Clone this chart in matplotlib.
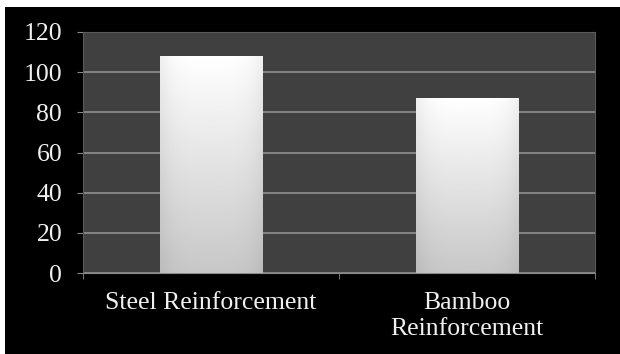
import numpy as np
import matplotlib
matplotlib.use("Agg")
import matplotlib.pyplot as plt
from matplotlib.patches import Rectangle

categories = ["Steel Reinforcement", "Bamboo\nReinforcement"]
values = [108, 87]
yticks = [0, 20, 40, 60, 80, 100, 120]

W, H = 620, 354
fig = plt.figure(figsize=(W / 100, H / 100), dpi=100, facecolor="white")
# black chart area with thin white border top/left
fig.patches.append(Rectangle((5 / W, 0), 1, 1 - 7 / H, transform=fig.transFigure,
                             facecolor="black", edgecolor="none", zorder=-10))

ax = fig.add_axes([83 / W, 1 - 273 / H, (595 - 83) / W, (273 - 32) / H])
ax.set_facecolor("#404040")

x = np.arange(len(categories))
bars = ax.bar(x, values, width=0.4, color="none", edgecolor="none", zorder=3)

# vertical white-to-gray gradient inside each bar
grad = np.linspace(0.78, 1.0, 256).reshape(-1, 1)
horiz = 1 - 0.06 * np.abs(np.linspace(-1, 1, 64)) ** 4
img = grad * horiz[None, :]
for b in bars:
    x0, w, h = b.get_x(), b.get_width(), b.get_height()
    im = ax.imshow(img, cmap="gray", vmin=0, vmax=1, origin="lower",
                   extent=[x0, x0 + w, 0, h], aspect="auto", zorder=3)
    im.set_clip_path(b)

ax.set_xlim(-0.5, len(categories) - 0.5)
ax.set_ylim(0, 120)
ax.set_yticks(yticks)
ax.yaxis.grid(True, color="#8a8a8a", linewidth=1.3, zorder=1)
ax.set_axisbelow(True)

ax.set_xticks(x)
ax.set_xticklabels(categories, linespacing=1.22)
ax.set_xticks([-0.5, 0.5, 1.5], minor=True)
ax.tick_params(axis="x", which="major", length=0, pad=14)
ax.tick_params(axis="x", which="minor", length=4, color="#8a8a8a", direction="out")
ax.tick_params(axis="y", length=4, color="#8a8a8a", pad=11)

for lab in ax.get_xticklabels() + ax.get_yticklabels():
    lab.set_fontfamily("Liberation Serif")
    lab.set_fontsize(18.5)
    lab.set_color("#f0f0f0")

for side in ["top", "right", "left"]:
    ax.spines[side].set_color("#5a5a5a")
ax.spines["bottom"].set_color("#8a8a8a")

fig.savefig("out.png", dpi=100, facecolor=fig.get_facecolor())
